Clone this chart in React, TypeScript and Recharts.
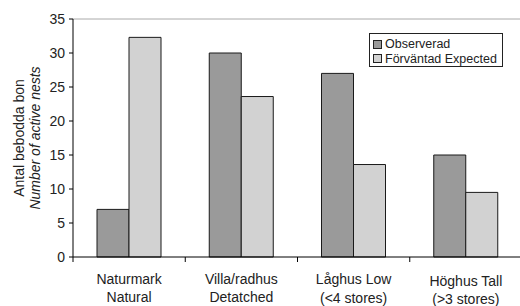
import { BarChart, Bar, XAxis, YAxis, ReferenceLine } from "recharts"

const categories = ["Naturmark", "Villa/radhus", "Låghus Low", "Höghus Tall"]
const subLabels = ["Natural", "Detatched", "(<4 stores)", "(>3 stores)"]
const observed = [7, 30, 27, 15]
const expected = [32.3, 23.6, 13.6, 9.5]
const yTicks = [0, 5, 10, 15, 20, 25, 30, 35]

const series = [
  { key: "observed", name: "Observerad", fill: "#9a9a9a" },
  { key: "expected", name: "Förväntad Expected", fill: "#d2d2d2" },
]

const data = categories.map((c, i) => ({
  category: c,
  observed: observed[i],
  expected: expected[i],
}))

const font = "'Liberation Sans', Arial, sans-serif"
const plotWidth = 449
const band = plotWidth / categories.length

function XTick(props: any) {
  const { x, y, index, payload } = props
  // the two right labels sit a little lower in the original
  const shift = index === 3 ? 2 : 0
  const shift2 = index === 2 ? 1 : index === 3 ? 2 : 0
  return (
    <g>
      <line x1={x - band / 2} x2={x - band / 2} y1={y} y2={y + 5} stroke="#000" />
      <text x={x} y={y + 27 + shift} textAnchor="middle" fontSize={14} fill="#222" fontFamily={font}>
        {payload.value}
      </text>
      <text x={x} y={y + 45 + shift2} textAnchor="middle" fontSize={14} fill="#222" fontFamily={font}>
        {subLabels[index]}
      </text>
    </g>
  )
}

function YLabel() {
  return (
    <g fontFamily={font} fontSize={14} fill="#222">
      <text x={24} y={138} transform="rotate(-90 24 138)" textAnchor="middle">
        Antal bebodda bon
      </text>
      <text x={40} y={138} transform="rotate(-90 40 138)" textAnchor="middle" fontStyle="italic">
        Number of active nests
      </text>
    </g>
  )
}

function LegendBox() {
  return (
    <div
      style={{
        position: "absolute",
        left: 369,
        top: 33,
        border: "1px solid #222",
        background: "#fff",
        width: 134,
        height: 34,
        padding: "3px 0 0 3px",
        fontFamily: font,
        fontSize: 12.5,
        color: "#222",
        boxSizing: "border-box",
      }}
    >
      {series.map((s) => (
        <div key={s.key} style={{ display: "flex", alignItems: "center", height: 14.5, whiteSpace: "nowrap" }}>
          <span
            style={{
              display: "inline-block",
              width: 7,
              height: 7,
              background: s.fill,
              border: "1px solid #222",
              marginRight: 3,
            }}
          />
          {s.name}
        </div>
      ))}
    </div>
  )
}

export default function App() {
  return (
    <div style={{ position: "absolute", left: 0, top: 0, width: 520, height: 306, overflow: "hidden", background: "#fff" }}>
      <BarChart
        width={522}
        height={306}
        data={data}
        margin={{ top: 19, right: 0, bottom: 0, left: 0 }}
        barGap={0}
        barSize={32}
      >
        <ReferenceLine y={35} stroke="#aaa" />
        <XAxis
          dataKey="category"
          height={49}
          tickLine={false}
          tickSize={0}
          tickMargin={0}
          stroke="#000"
          tick={<XTick />}
          interval={0}
        />
        <YAxis
          width={73}
          domain={[0, 35]}
          ticks={yTicks}
          interval={0}
          stroke="#000"
          tickSize={4}
          tickMargin={4}
          tick={{ fill: "#222", fontSize: 14, fontFamily: font }}
          label={<YLabel />}
        />
        {series.map((s) => (
          <Bar
            key={s.key}
            dataKey={s.key}
            name={s.name}
            fill={s.fill}
            stroke="#1a1a1a"
            strokeWidth={1}
            isAnimationActive={false}
          />
        ))}
      </BarChart>
      <LegendBox />
    </div>
  )
}
